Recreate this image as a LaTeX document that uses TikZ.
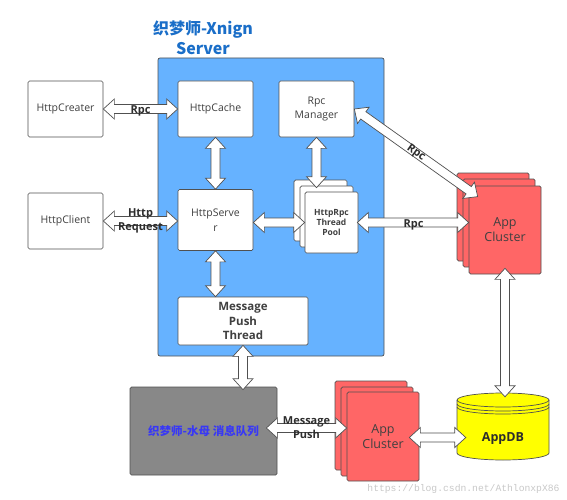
\documentclass[tikz,border=0pt]{standalone}
\usepackage{fontspec}
\setmainfont{Open Sans}
\newfontfamily\cjk{Noto Sans CJK SC}
\newfontfamily\wmfont{Liberation Mono}
\usetikzlibrary{calc}
\definecolor{boxline}{HTML}{505050}
\definecolor{txt}{HTML}{404040}
\definecolor{srvblue}{HTML}{66B2FF}
\definecolor{titleblue}{HTML}{1A6EC8}
\definecolor{appred}{HTML}{FF6666}
\definecolor{mqgray}{HTML}{888888}
\definecolor{mqtext}{HTML}{3838F5}
\definecolor{dbyellow}{HTML}{FFFF00}
\definecolor{wm}{HTML}{C8C8C8}
\tikzset{
  box/.style={draw=boxline, line width=0.7pt, rounded corners=1.5pt, fill=white, text=txt,
    font=\fontsize{10.5}{14.5}\selectfont, align=center, inner sep=1pt,
    minimum width=75, minimum height=56},
  poolcard/.style={box, minimum width=53, minimum height=61,
    font=\bfseries\fontsize{8.5}{10.3}\selectfont},
  appcard/.style={box, fill=appred, minimum width=72, minimum height=88,
    font=\fontsize{12.5}{15}\selectfont},
  barrow/.style={draw=boxline, fill=white, line width=0.7pt, line join=miter},
  lbl/.style={font=\bfseries\fontsize{11}{14}\selectfont, text=txt!70!black, align=center, inner sep=0pt},
}
\newcommand{\blockarr}[2]{%
  \path let \p1=#1, \p2=#2, \n1={atan2(\y2-\y1,\x2-\x1)}, \n2={veclen(\x2-\x1,\y2-\y1)} in
    \pgfextra{\xdef\baang{\n1}\xdef\balen{\n2}};
  \begin{scope}[shift={#1}, rotate=\baang, x=1pt, y=1pt]
    \draw[barrow] (0,0) -- (11,10) -- (11,4.5) -- (\balen-11,4.5) -- (\balen-11,10) -- (\balen,0)
      -- (\balen-11,-10) -- (\balen-11,-4.5) -- (11,-4.5) -- (11,-10) -- cycle;
  \end{scope}}
\begin{document}
\begin{tikzpicture}[x=1pt, y=-1pt]
\useasboundingbox (0,0) rectangle (567,500);
% server frame
\node[draw=boxline, fill=srvblue, rounded corners=2pt, line width=0.7pt,
  minimum width=226, minimum height=298, inner sep=0] (srv) at (271,207) {};
\node[font=\cjk\bfseries\fontsize{16}{19.5}\selectfont, text=titleblue, align=center] (title) at (203,38) {织梦师-Xnign\\Server};
% boxes
\node[box] (hcr) at (65.5,109) {HttpCreater};
\node[box] (hca) at (215.5,109) {HttpCache};
\node[box] (rm) at (316.5,109) {Rpc\\Manager};
\node[box] (hcl) at (65.5,221) {HttpClient};
\node[box, minimum height=61] (hs) at (215.5,220) {HttpServe\\r};
\node[box, minimum width=130, minimum height=48, font=\bfseries\fontsize{11.5}{14.7}\selectfont] (mp) at (243,321) {Message\\Push\\Thread};
% thread pool stack
\node[poolcard] (pb) at (320.5,210.5) {};
\node[poolcard] (pm) at (326.5,216.5) {};
\node[poolcard] (pf) at (331.5,222.5) {HttpRpc\\Thread\\Pool};
% app cluster (top)
\node[appcard] (acb) at (493,217) {};
\node[appcard] (acm) at (499,223) {};
\node[appcard] (acf) at (505,230) {App\\Cluster};
% message queue
\node[box, fill=mqgray, minimum width=147, minimum height=88, text=mqtext,
  font=\cjk\bfseries\fontsize{11.5}{14}\selectfont] (mq) at (203.5,431) {织梦师-水母 消息队列};
% app cluster (bottom)
\node[appcard, minimum height=89] (acbb) at (371,425.5) {};
\node[appcard, minimum height=89] (acbm) at (377,431.5) {};
\node[appcard, minimum height=89] (acbf) at (383,436.5) {App\\Cluster};
% database cylinder
\node[minimum width=92, minimum height=67, inner sep=0] (db) at (503,426.5) {};
\draw[draw=boxline, fill=dbyellow, line width=0.7pt]
  (457,400) -- (457,453) arc[start angle=180, end angle=0, x radius=46, y radius=7]
  -- (549,400) arc[start angle=0, end angle=-180, x radius=46, y radius=7] -- cycle;
\draw[draw=boxline, line width=0.7pt] (457,400) arc[start angle=180, end angle=0, x radius=46, y radius=7];
\draw[draw=boxline, line width=0.7pt] (457,404) arc[start angle=180, end angle=0, x radius=46, y radius=7];
\draw[draw=boxline, line width=0.7pt] (457,407) arc[start angle=180, end angle=0, x radius=46, y radius=7];
\node[font=\bfseries\fontsize{12.5}{15}\selectfont, text=txt!70!black] (dbt) at (503,439) {AppDB};
% arrows
\blockarr{(hcr.east)}{(hca.west)}
\blockarr{(hca.south)}{(hs.north)}
\blockarr{(rm.south)}{($(rm.south |- pm.north)+(0,2)$)}
\blockarr{(hcl.east)}{(hcl.east -| hs.west)}
\blockarr{(hs.east |- pf.west)}{(pf.west)}
\blockarr{($(pf.east)+(-1,0)$)}{(pf.east -| acf.west)}
\blockarr{(rm.east)}{($(acf.north west)+(9,11)$)}
\blockarr{(hs.south)}{(hs.south |- mp.north)}
\blockarr{(mp.south)}{($(mp.south |- mq.north)+(0,3)$)}
\blockarr{($(mq.east)+(-11,-3)$)}{($(mq.east -| acbf.west)+(0,-3)$)}
\blockarr{($(acf.south)+(0,-6)$)}{($(acf.south |- db.north)+(0,4)$)}
\blockarr{($(acbf.east)+(-10,1)$)}{($(acbf.east -| db.west)+(9,1)$)}
% labels
\path (hcr.east) -- (hca.west) node[lbl, midway, yshift=-2] {Rpc};
\path (hcl.east) -- (hcl.east -| hs.west) node[lbl, midway] {Http\\Request};
\path (pf.east) -- (pf.east -| acf.west) node[lbl, midway, yshift=-2] {Rpc};
\path (rm.east) -- ($(acf.north west)+(9,11)$) node[lbl, midway, sloped] {Rpc};
\path ($(mq.east)+(-11,-3)$) -- ($(mq.east -| acbf.west)+(0,-3)$) node[lbl, midway] {Message\\Push};
% watermark
\node[font=\wmfont\fontsize{9.7}{12}\selectfont, text=wm] (wmk) at (463.5,489) {https://blog.csdn.net/AthlonxpX86};
\end{tikzpicture}
\end{document}
